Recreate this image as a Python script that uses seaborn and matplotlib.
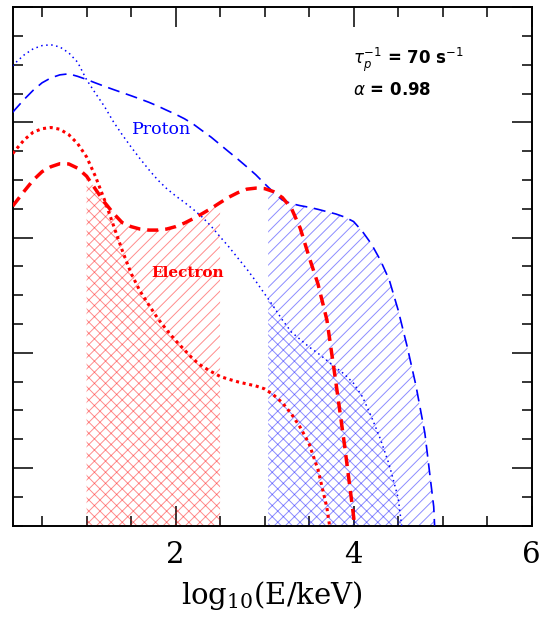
import numpy as np
import matplotlib
matplotlib.use("Agg")
import matplotlib.pyplot as plt
from matplotlib.ticker import MultipleLocator, NullFormatter
import seaborn as sns

# ---- spectra: log10(E/keV) vs log flux (arbitrary units) ----
proton_dot_x = [0.17, 0.2, 0.3, 0.4, 0.5, 0.6, 0.7, 0.8, 0.9, 1.0, 1.1, 1.2, 1.3, 1.4,
                1.5, 1.6, 1.7, 1.8, 1.9, 2.0, 2.1, 2.2, 2.3, 2.4, 2.5, 2.6, 2.7, 2.8,
                2.9, 3.0, 3.04, 3.1, 3.2, 3.3, 3.4, 3.5, 3.6, 3.7, 3.8, 3.9, 4.0, 4.1,
                4.2, 4.3, 4.4, 4.5, 4.54]
proton_dot_y = [3.490, 3.516, 3.586, 3.638, 3.666, 3.673, 3.654, 3.603, 3.521, 3.370,
                3.252, 3.139, 3.007, 2.893, 2.786, 2.685, 2.589, 2.500, 2.425, 2.362,
                2.305, 2.244, 2.177, 2.098, 2.007, 1.918, 1.822, 1.727, 1.623, 1.512,
                1.469, 1.402, 1.285, 1.181, 1.116, 1.051, 0.996, 0.934, 0.873, 0.812,
                0.735, 0.618, 0.445, 0.254, 0.029, -0.257, -0.5]

proton_dash_x = [0.17, 0.2, 0.3, 0.4, 0.5, 0.6, 0.7, 0.8, 0.9, 1.0, 1.1, 1.2, 1.3, 1.4,
                 1.5, 1.6, 1.7, 1.8, 1.9, 2.0, 2.1, 2.2, 2.3, 2.4, 2.5, 2.6, 2.7, 2.8,
                 2.9, 3.0, 3.04, 3.1, 3.2, 3.3, 3.4, 3.5, 3.6, 3.7, 3.8, 3.9, 4.0, 4.1,
                 4.2, 4.3, 4.4, 4.5, 4.6, 4.7, 4.8, 4.9, 4.91]
proton_dash_y = [3.087, 3.114, 3.200, 3.278, 3.343, 3.386, 3.412, 3.421, 3.399, 3.372,
                 3.342, 3.313, 3.285, 3.258, 3.231, 3.203, 3.174, 3.141, 3.105, 3.070,
                 3.031, 2.984, 2.927, 2.871, 2.807, 2.743, 2.680, 2.614, 2.546, 2.468,
                 2.438, 2.394, 2.325, 2.295, 2.277, 2.263, 2.245, 2.225, 2.205, 2.178,
                 2.139, 2.052, 1.944, 1.805, 1.634, 1.372, 1.060, 0.717, 0.306, -0.335,
                 -0.5]

electron_dot_x = [0.17, 0.2, 0.3, 0.4, 0.5, 0.6, 0.7, 0.8, 0.9, 1.0, 1.1, 1.2, 1.3, 1.4,
                  1.5, 1.6, 1.7, 1.8, 1.9, 2.0, 2.1, 2.2, 2.3, 2.4, 2.5, 2.6, 2.7, 2.8,
                  2.9, 3.0, 3.1, 3.2, 3.3, 3.4, 3.5, 3.6, 3.7, 3.73]
electron_dot_y = [2.728, 2.758, 2.849, 2.914, 2.945, 2.955, 2.940, 2.893, 2.815, 2.700,
                  2.530, 2.330, 2.110, 1.890, 1.690, 1.536, 1.415, 1.298, 1.198, 1.107,
                  1.025, 0.943, 0.882, 0.837, 0.795, 0.770, 0.748, 0.730, 0.713, 0.687,
                  0.635, 0.566, 0.471, 0.354, 0.211, -0.014, -0.344, -0.5]

electron_dash_x = [0.17, 0.2, 0.3, 0.4, 0.5, 0.6, 0.7, 0.8, 0.9, 1.0, 1.1, 1.2, 1.3, 1.4,
                   1.5, 1.6, 1.7, 1.8, 1.9, 2.0, 2.1, 2.2, 2.3, 2.4, 2.5, 2.6, 2.7, 2.8,
                   2.9, 3.0, 3.1, 3.2, 3.3, 3.4, 3.5, 3.6, 3.7, 3.8, 3.9, 4.0, 4.01]
electron_dash_y = [2.273, 2.303, 2.403, 2.498, 2.572, 2.615, 2.641, 2.639, 2.602, 2.533,
                   2.420, 2.308, 2.212, 2.130, 2.095, 2.074, 2.065, 2.065, 2.074, 2.095,
                   2.126, 2.165, 2.208, 2.253, 2.303, 2.351, 2.390, 2.420, 2.429, 2.425,
                   2.399, 2.347, 2.256, 2.082, 1.831, 1.597, 1.285, 0.748, 0.188, -0.420,
                   -0.5]

# energy bands that are shaded
electron_band = (1.0, 2.5)
proton_band = (3.04, 6.0)

x_ticks = [2, 4, 6]
x_tick_labels = ["2", "4", "6"]

sns.set_theme(style="ticks")
plt.rcParams["font.family"] = ["DejaVu Serif"]
plt.rcParams["hatch.linewidth"] = 0.7
plt.rcParams["axes.linewidth"] = 1.4
plt.rcParams["text.color"] = "black"
plt.rcParams["axes.labelcolor"] = "black"
plt.rcParams["xtick.color"] = "black"
plt.rcParams["ytick.color"] = "black"

fig = plt.figure(figsize=(5.4, 6.17), dpi=100)
ax = fig.add_axes([0.0235, 0.148, 0.961, 0.8405])

YMIN = -0.5


def band(xs, ys, lo, hi):
    xs = np.asarray(xs)
    ys = np.asarray(ys)
    m = (xs >= lo - 1e-9) & (xs <= hi + 1e-9)
    return xs[m], ys[m]


# electron band: '/' under dashed, '\' under the lower of both curves
ex, edash = band(electron_dash_x, electron_dash_y, *electron_band)
_, edot = band(electron_dot_x, electron_dot_y, *electron_band)
red_h = (1.0, 0.0, 0.0, 0.45)
ax.fill_between(ex, YMIN, edash, facecolor="none", edgecolor=red_h, linewidth=0,
                hatch="///", zorder=1)
ax.fill_between(ex, YMIN, np.minimum(edash, edot), facecolor="none", edgecolor=red_h,
                linewidth=0, hatch="\\\\\\", zorder=1)

# proton band
px_, pdash = band(proton_dash_x, proton_dash_y, *proton_band)
px2, pdot = band(proton_dot_x, proton_dot_y, *proton_band)
blue_h = (0.0, 0.0, 1.0, 0.45)
ax.fill_between(px_, YMIN, pdash, facecolor="none", edgecolor=blue_h, linewidth=0,
                hatch="///", zorder=1)
ax.fill_between(px2, YMIN, pdot, facecolor="none", edgecolor=blue_h, linewidth=0,
                hatch="\\\\\\", zorder=1)

# spectra
sns.lineplot(x=proton_dot_x, y=proton_dot_y, ax=ax, color="#0000ff", lw=1.1,
             linestyle=(0, (1, 2.3)), zorder=3)
sns.lineplot(x=proton_dash_x, y=proton_dash_y, ax=ax, color="#0000ff", lw=1.2,
             linestyle=(0, (7.2, 4.0)), zorder=3)
sns.lineplot(x=electron_dot_x, y=electron_dot_y, ax=ax, color="#ff0000", lw=2.2,
             linestyle=(0, (1, 1.2)), zorder=3)
sns.lineplot(x=electron_dash_x, y=electron_dash_y, ax=ax, color="#ff0000", lw=2.5,
             linestyle=(0, (3.2, 2.0)), zorder=3)

ax.set_xlim(0.17, 6.0)
ax.set_ylim(YMIN, 4.0)

ax.set_xticks(x_ticks)
ax.set_xticklabels(x_tick_labels, fontsize=21)
ax.xaxis.set_minor_locator(MultipleLocator(0.5))
ax.yaxis.set_major_locator(MultipleLocator(1))
ax.yaxis.set_minor_locator(MultipleLocator(0.25))
ax.yaxis.set_major_formatter(NullFormatter())
ax.tick_params(which="both", direction="in", top=True, right=True, colors="black",
               width=1.1)
ax.tick_params(which="major", length=14.5)
ax.tick_params(which="minor", length=7.2)
ax.tick_params(axis="x", which="major", pad=11)
for s in ax.spines.values():
    s.set_color("black")
    s.set_visible(True)

ax.set_xlabel(r"log$_{10}$(E/keV)", fontsize=21, labelpad=7, color="black",
              math_fontfamily="dejavuserif")
ax.set_ylabel("")

ax.text(1.84, 2.94, "Proton", color="#0000ff", fontsize=12.5, ha="center", va="center")
ax.text(2.13, 1.69, "Electron", color="#ff0000", fontsize=11, fontweight="bold",
        ha="center", va="center")
ax.text(0.656, 0.898, r"$\tau_p^{-1}$ = 70 s$^{-1}$", transform=ax.transAxes,
        family="DejaVu Sans", fontsize=12, fontweight="bold", ha="left", va="center",
        color="black", math_fontfamily="dejavusans")
ax.text(0.656, 0.840, r"$\alpha$ = 0.98", transform=ax.transAxes,
        family="DejaVu Sans", fontsize=12, fontweight="bold", ha="left", va="center",
        color="black", math_fontfamily="dejavusans")

fig.savefig("out.png", dpi=100)
